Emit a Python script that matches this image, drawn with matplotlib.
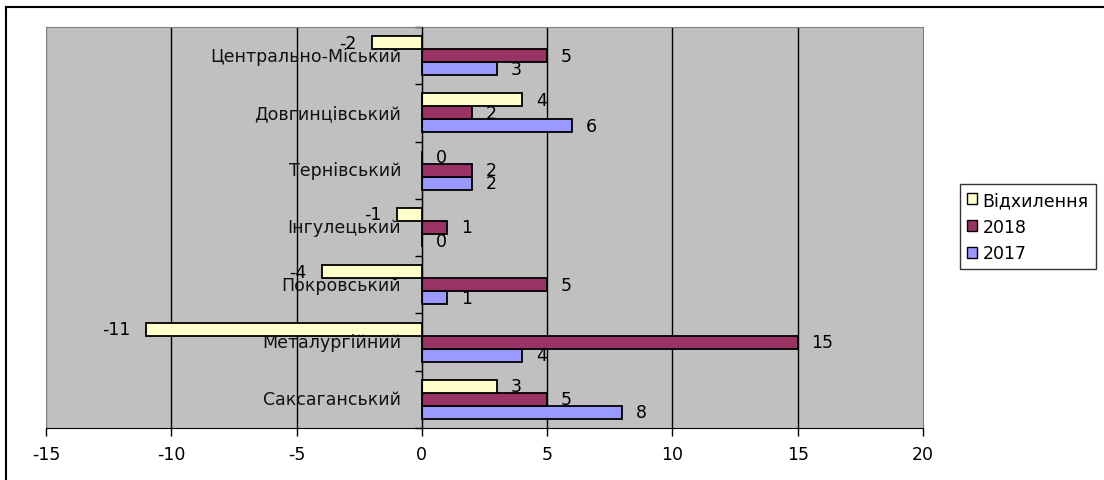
import numpy as np
import matplotlib
matplotlib.use('Agg')
import matplotlib.pyplot as plt
from matplotlib.patches import Patch
from matplotlib.lines import Line2D

plt.rcParams['font.family'] = ['DejaVu Sans']
plt.rcParams['axes.unicode_minus'] = False

# дані (знизу вгору, як у Excel)
districts = ['Саксаганський', 'Металургійний', 'Покровський', 'Інгулецький',
             'Тернівський', 'Довгинцівський', 'Центрально-Міський']
v2017 = [8, 4, 1, 0, 2, 6, 3]
v2018 = [5, 15, 5, 1, 2, 2, 5]
deviation = [3, -11, -4, -1, 0, 4, -2]
series_names = ['Відхилення', '2018', '2017']
colors = {'Відхилення': '#FFFFCC', '2018': '#993366', '2017': '#9999FF'}

fs = 12.5

fig = plt.figure(figsize=(11.04, 4.81), dpi=100)
ax = fig.add_axes([46/1104, 1-429/481, 877/1104, 401/481])
ax.set_facecolor('#C0C0C0')

y = np.arange(len(districts))
h = 0.227
bars17 = ax.barh(y - h, v2017, h, color=colors['2017'], edgecolor='black', linewidth=1.3, zorder=3)
bars18 = ax.barh(y, v2018, h, color=colors['2018'], edgecolor='black', linewidth=1.3, zorder=3)
barsdv = ax.barh(y + h, deviation, h, color=colors['Відхилення'], edgecolor='black', linewidth=1.3, zorder=3)

# підписи значень
for bars, vals in [(bars17, v2017), (bars18, v2018), (barsdv, deviation)]:
    for b, v in zip(bars, vals):
        yc = b.get_y() + b.get_height() / 2
        if v < 0:
            ax.annotate(str(v), (v, yc), xytext=(-11, 0), textcoords='offset points',
                        ha='right', va='center', fontsize=fs, zorder=5)
        else:
            ax.annotate(str(v), (v, yc), xytext=(10, 0), textcoords='offset points',
                        ha='left', va='center', fontsize=fs, zorder=5)

# назви районів біля осі
for yi, name in zip(y, districts):
    ax.annotate(name, (0, yi), xytext=(-15, 0), textcoords='offset points',
                ha='right', va='center', fontsize=fs, color='#111111', zorder=4)

ax.set_xlim(-15, 20)
ax.set_ylim(-0.5, len(districts) - 0.5)
ax.set_xticks(np.arange(-15, 21, 5))
ax.tick_params(axis='x', labelsize=fs, length=6, width=1, direction='out', pad=6)
ax.set_yticks(np.arange(-0.5, len(districts), 1))
ax.set_yticklabels([])
ax.tick_params(axis='y', length=5, width=1, direction='out')

ax.xaxis.grid(True, color='black', linewidth=1)
gl = ax.get_xgridlines()
gl[0].set_visible(False)
gl[-1].set_visible(False)
ax.set_axisbelow(True)

ax.spines['left'].set_position(('data', 0))
ax.spines['left'].set_zorder(4)
ax.spines['bottom'].set_color('black')
for s in ['top', 'right']:
    ax.spines[s].set_color('#808080')
ax.add_line(Line2D([0, 0], [0, 1], transform=ax.transAxes, color='#808080', linewidth=1, zorder=1))

handles = [Patch(facecolor=colors[n], edgecolor='black', linewidth=1) for n in series_names]
leg = fig.legend(handles, series_names, loc='upper left', bbox_to_anchor=(960/1104, 1-185/481),
                 bbox_transform=fig.transFigure, fontsize=fs, frameon=True, fancybox=False,
                 edgecolor='black', handlelength=0.6, handleheight=0.6, handletextpad=0.3,
                 labelspacing=0.5, borderpad=0.4, borderaxespad=0)
leg.get_frame().set_linewidth(1)

# рамка діаграми
fig.add_artist(Line2D([6/1104, 6/1104], [0, 1-8/481], transform=fig.transFigure, color='black', linewidth=1.5))
fig.add_artist(Line2D([6/1104, 1], [1-8/481, 1-8/481], transform=fig.transFigure, color='black', linewidth=1.5))

fig.savefig('out.png', dpi=100)
